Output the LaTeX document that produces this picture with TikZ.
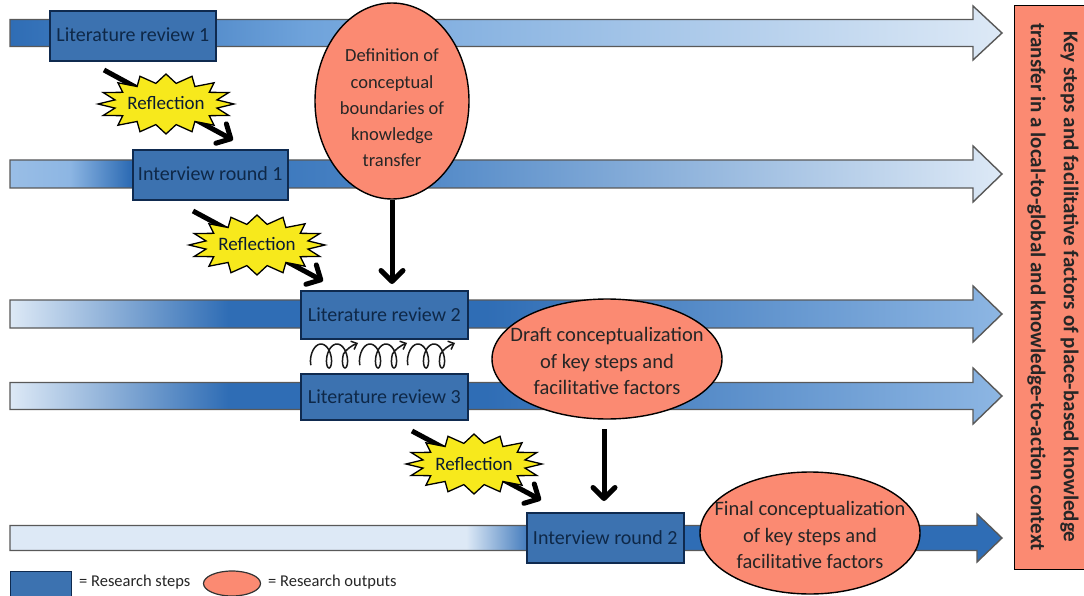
\documentclass[tikz,border=0pt]{standalone}
\usepackage{fontspec}
\setmainfont{Carlito}
\usetikzlibrary{arrows.meta,shapes.geometric}
\definecolor{bd}{HTML}{2F6DB5}
\definecolor{bm}{HTML}{6FA3DB}
\definecolor{bl}{HTML}{DDE9F6}
\definecolor{bs}{HTML}{8DB6E3}
\definecolor{boxb}{HTML}{3C72B0}
\definecolor{boxe}{HTML}{0F2A4F}
\definecolor{sal}{HTML}{FB8A72}
\definecolor{txtb}{HTML}{0E2848}
\definecolor{yel}{HTML}{F7E91C}
\pgfdeclarehorizontalshading{rowa}{100bp}{color(0bp)=(bd);color(25bp)=(bd);color(35bp)=(bd!40!bm);color(40bp)=(bm);color(75bp)=(bl);color(100bp)=(bl)}
\pgfdeclarehorizontalshading{rowb}{100bp}{color(0bp)=(bs);color(25bp)=(bs!85!bl);color(28bp)=(bs);color(31bp)=(bd);color(44bp)=(bd!60!bm);color(75bp)=(bl);color(100bp)=(bl)}
\pgfdeclarehorizontalshading{rowc}{100bp}{color(0bp)=(bl);color(25bp)=(bl);color(36bp)=(bd);color(49bp)=(bd);color(75bp)=(bs);color(100bp)=(bs)}
\pgfdeclarehorizontalshading{rowd}{100bp}{color(0bp)=(bl);color(25bp)=(bl);color(48bp)=(bl);color(51.5bp)=(bd);color(75bp)=(bd);color(100bp)=(bd)}
\tikzset{
  stepbox/.style={draw=boxe,line width=1.6pt,fill=boxb,text=txtb,font=\fontsize{20}{24}\selectfont,inner sep=0pt,anchor=north west},
  output/.style={ellipse,draw=black,line width=1.4pt,fill=sal,inner sep=0pt},
  outtext/.style={align=center,text=black!85,inner sep=0pt,font=\fontsize{20.5}{26.5}\selectfont},
  outtextb/.style={outtext,font=\fontsize{18.5}{26.3}\selectfont},
  burst/.style={draw=black,line width=1.3pt,fill=yel,line join=miter},
  bursttext/.style={text=txtb!70!black,inner sep=0pt,font=\fontsize{19}{22}\selectfont},
  thick link/.style={line width=5pt,-{Straight Barb[length=11pt,width=22pt,line width=5pt,round]}},
  flow/.style={draw=black!65,line width=1.4pt,line join=miter},
  coilarrow/.style={line width=1.5pt,black!90,-{Straight Barb[length=5pt,width=9pt,line width=1.5pt]}},
  legendtext/.style={anchor=west,text=black!85,inner sep=0pt,font=\fontsize{16.5}{19}\selectfont},
}
\newcommand{\flowarrow}[5]{% shading, centre y, shaft half, head half, head base x
  \path[flow,shade,shading=#1] (10,#2-#3) -- (#5,#2-#3) -- (#5,#2-#4) -- (1002,#2) -- (#5,#2+#4) -- (#5,#2+#3) -- (10,#2+#3) -- cycle;
}
\newcommand{\burstat}[3]{% x, y, name
  \path[burst] plot[samples at={0,...,31}] ({#1+(mod(\x,2)==0?68:52)*cos(\x*11.25)},{#2+(mod(\x,2)==0?30:21)*sin(\x*11.25)}) -- cycle;
  \node[bursttext] (#3) at (#1,#2-0.5) {Reflection};
}
\newcommand{\coilat}[1]{%
  \draw[coilarrow] plot[smooth,domain=-140:640,samples=60] ({#1+8+16*(\x)/360+6*sin(\x)},{356-12*cos(\x)}) .. controls (#1+33.5,349) and (#1+39,345.5) .. (#1+45,343);
}
\begin{document}
\begin{tikzpicture}[x=1pt,y=-1pt]
\useasboundingbox (0,0) rectangle (1084,596);
\fill[white] (0,0) rectangle (1084,596);
\flowarrow{rowa}{33}{13.5}{27}{973}
\flowarrow{rowb}{174}{14}{28}{973}
\flowarrow{rowc}{314}{14}{28}{973}
\flowarrow{rowc}{396}{13.5}{28}{973}
\flowarrow{rowd}{538}{12.5}{24}{977}
% reflection links behind the bursts
\coordinate (ra1) at (104,70); \coordinate (rb1) at (233,140);
\coordinate (ra2) at (193,211); \coordinate (rb2) at (323,281);
\coordinate (ra3) at (412,431); \coordinate (rb3) at (541,500);
\draw[thick link] (ra1) -- (rb1);
\draw[thick link] (ra2) -- (rb2);
\draw[thick link] (ra3) -- (rb3);
% research steps
\node[stepbox,minimum width=166pt,minimum height=50pt] (lr1) at (49,10) {\raisebox{2pt}{Literature review 1}};
\node[stepbox,minimum width=155pt,minimum height=50pt] (ir1) at (132,149) {\raisebox{2pt}{Interview round 1}};
\node[stepbox,minimum width=167pt,minimum height=48pt] (lr2) at (300,290) {\raisebox{1pt}{Literature review 2}};
\node[stepbox,minimum width=167pt,minimum height=46pt] (lr3) at (300,373) {\raisebox{1pt}{Literature review 3}};
\node[stepbox,minimum width=157pt,minimum height=50pt] (ir2) at (526,512) {\raisebox{1pt}{Interview round 2}};
% reflection bursts
\burstat{166}{104}{r1}
\burstat{257}{245}{r2}
\burstat{474}{464}{r3}
% outputs
\node[output,minimum width=154pt,minimum height=196pt,label={[outtextb,yshift=-7pt]center:{Definition of\\conceptual\\boundaries of\\knowledge\\transfer}}] (o1) at (392,101) {};
\node[output,minimum width=230pt,minimum height=120pt,label={[outtext,yshift=-2pt]center:{Draft conceptualization\\of key steps and\\facilitative factors}}] (o2) at (607,359) {};
\node[output,minimum width=220pt,minimum height=122pt,label={[outtext,yshift=-2pt]center:{Final conceptualization\\of key steps and\\facilitative factors}}] (o3) at (810,533) {};
\draw[thick link] (o1.south) -- ([yshift=6pt]lr2.north -| o1.south);
\coordinate (d2a) at (604,429); \coordinate (d2b) at (604,501);
\draw[thick link] (d2a) -- (d2b);
% iterating coils
\coilat{313}
\coilat{362}
\coilat{410}
% right-hand box
\node[draw=black,line width=1.4pt,fill=sal,minimum width=74pt,minimum height=564pt,inner sep=0pt,anchor=north west] (key) at (1014,5) {};
\node[rotate=-90,align=center,text=black!85,font=\fontsize{21}{33}\bfseries\selectfont] (keyt) at (1053,287) {Key steps and facilitative factors of place-based knowledge\\transfer in a local-to-global and knowledge-to-action context};
% legend
\node[draw=boxe,line width=1.2pt,fill=boxb,minimum width=61pt,minimum height=30pt,inner sep=0pt,anchor=north west] (leg1) at (10,571) {};
\node[legendtext] (legt1) at (79,582) {= Research steps};
\node[ellipse,draw=black!80,line width=1.2pt,fill=sal,minimum width=57pt,minimum height=25pt,inner sep=0pt] (leg2) at (232,583.5) {};
\node[legendtext] (legt2) at (268,582) {= Research outputs};
\end{tikzpicture}
\end{document}
